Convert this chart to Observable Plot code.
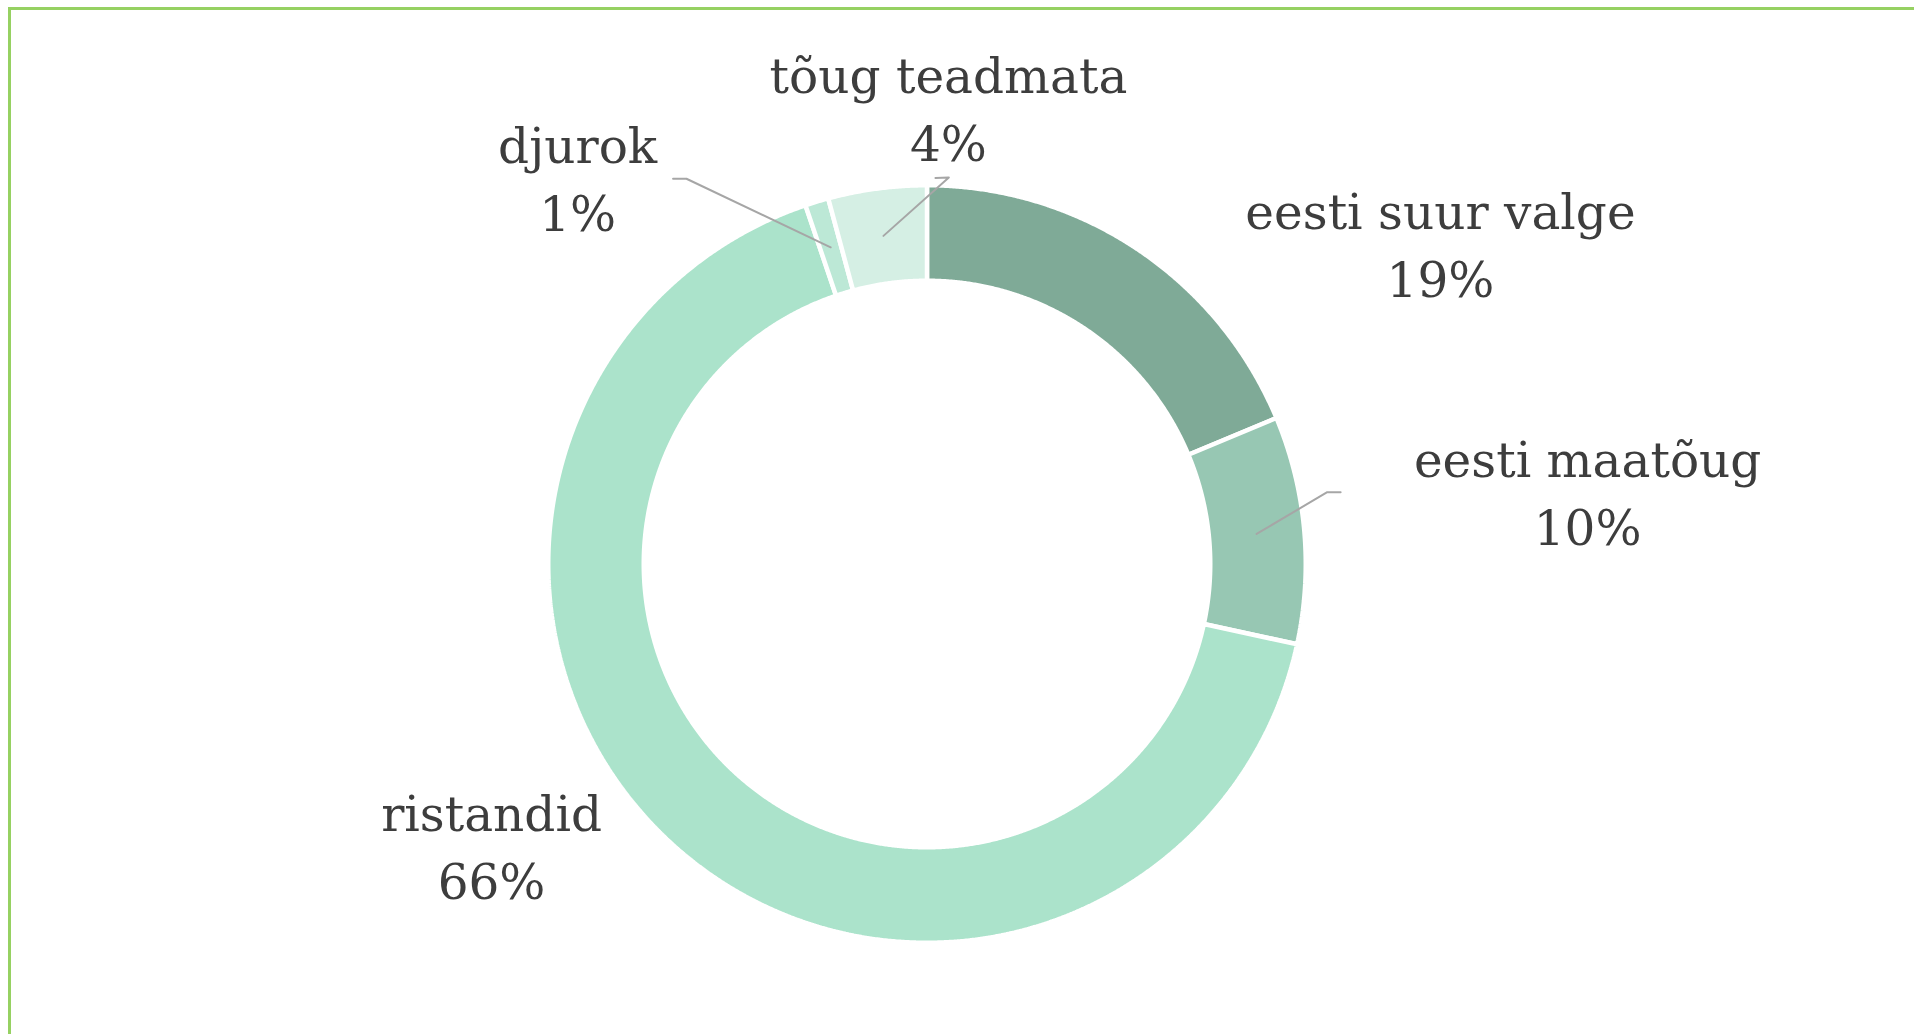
<!DOCTYPE html>
<html>
<head>
<meta charset="utf-8">
<script src="https://cdn.jsdelivr.net/npm/d3@7"></script>
<script src="https://cdn.jsdelivr.net/npm/@observablehq/plot@0.6"></script>
<style>
  html, body { margin: 0; padding: 0; background: #ffffff; overflow: hidden; width: 1914px; height: 1034px; }
  #frame { position: absolute; left: 8px; top: 7px; width: 3000px; height: 3000px; border-top: 3px solid #96D162; border-left: 3px solid #96D162; box-sizing: border-box; }
  #chart { position: absolute; left: 0; top: 0; }
</style>
</head>
<body>
<div id="frame"></div>
<div id="chart"></div>
<script>
// ---- data ----
const names = ["eesti suur valge", "eesti maatõug", "ristandid", "djurok", "tõug teadmata"];
const shares = [18.7, 9.7, 66.4, 1.0, 4.2];
const colors = ["#7FAA97", "#97C7B3", "#ABE3CB", "#BCE8D6", "#D5EFE4"];

// ---- layout (pixels) ----
const W = 1914, H = 1034;
const cx = 926.5, cy = 563.5;          // ring centre
const R = 378.75;                      // outer radius of the slice paths
const innerRatio = 283.25 / 378.75;    // inner radius relative to outer
const anchorRatio = (1 + innerRatio) / 2;
// label block offset from the ring anchor of each slice
const labelOffsets = [[330, -47], [331, -45], [-215, 32], [-253, -72], [65, -131]];
// leader lines: [elbow, end] offsets from the ring anchor (null = no leader)
const leaders = [null, [[70.6, -41.7], [84, -41.7]], null, [[-144.2, -68.6], [-157.6, -68.6]], [[65.4, -58.4], [52, -58]]];

const fontSize = 48.5;

// ---- geometry through d3.pie ----
const pie = d3.pie().sort(null).value(d => d)(shares);
const polar = (a, r) => [r * Math.sin(a), -r * Math.cos(a)];

const ringPoints = [];
pie.forEach((p, i) => {
  const a0 = p.startAngle, a1 = p.endAngle;
  const n = Math.max(2, Math.ceil((a1 - a0) / (Math.PI / 720)));
  const pts = [];
  for (let k = 0; k <= n; k++) pts.push(polar(a0 + (a1 - a0) * k / n, 1));
  for (let k = n; k >= 0; k--) pts.push(polar(a0 + (a1 - a0) * k / n, innerRatio));
  pts.push(pts[0]);
  pts.forEach(([x, y]) => ringPoints.push({name: names[i], x, y}));
});

const labels = pie.map((p, i) => {
  const mid = (p.startAngle + p.endAngle) / 2;
  const [ax, ay] = polar(mid, anchorRatio);
  return {
    name: names[i],
    ax, ay,
    x: ax + labelOffsets[i][0] / R,
    y: ay + labelOffsets[i][1] / R,
    text: names[i] + "\n" + Math.round(shares[i]) + "%"
  };
});

const leaderPoints = [];
labels.forEach((l, i) => {
  const ld = leaders[i];
  if (!ld) return;
  leaderPoints.push({name: l.name, x: l.ax, y: l.ay});
  ld.forEach(([dx, dy]) => leaderPoints.push({name: l.name, x: l.ax + dx / R, y: l.ay + dy / R}));
});

const chart = Plot.plot({
  width: W,
  height: H,
  margin: 0,
  style: {background: "transparent", overflow: "visible"},
  x: {domain: [-cx / R, (W - cx) / R], range: [0, W], axis: null},
  y: {domain: [-cy / R, (H - cy) / R], range: [0, H], axis: null},
  color: {domain: names, range: colors},
  marks: [
    Plot.line(ringPoints, {x: "x", y: "y", z: "name", fill: "name", stroke: "white", strokeWidth: 4.5, strokeLinejoin: "miter", curve: "linear"}),
    Plot.line(leaderPoints, {x: "x", y: "y", z: "name", stroke: "#A6A6A6", strokeWidth: 2, curve: "linear"}),
    Plot.text(labels, {x: "x", y: "y", text: "text", fill: "#3D3D3D", fontSize: fontSize, fontFamily: "DejaVu Serif", lineHeight: 1.4, textAnchor: "middle", lineAnchor: "middle"})
  ]
});
document.getElementById("chart").appendChild(chart);
</script>
</body>
</html>
